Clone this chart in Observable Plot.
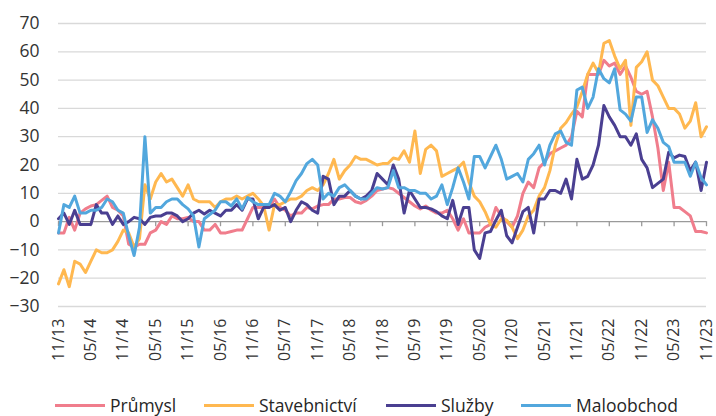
<!DOCTYPE html>
<html><head><meta charset="utf-8">
<script src="https://cdn.jsdelivr.net/npm/d3@7"></script>
<script src="https://cdn.jsdelivr.net/npm/@observablehq/plot@0.6"></script>
<style>
body{margin:0;background:#fff;font-family:"Open Sans",sans-serif;}
#chart{width:716px;height:416px;position:relative;overflow:hidden;}
#legend{position:absolute;top:395px;left:0;width:716px;height:20px;}
.item{position:absolute;top:0;display:flex;align-items:center;font-size:17.5px;line-height:20px;height:20px;color:#262626;white-space:nowrap;}
.sw{width:50px;height:3px;margin-right:5px;}
</style></head><body><div id="chart"></div>
<script>
const seriesNames = ["Průmysl", "Stavebnictví", "Služby", "Maloobchod"];
const seriesColors = ["#F07D8C", "#FFB850", "#4A3F91", "#52A7DD"];
const tickLabels = ["11/13","05/14","11/14","05/15","11/15","05/16","11/16","05/17","11/17","05/18","11/18","05/19","11/19","05/20","11/20","05/21","11/21","05/22","11/22","05/23","11/23"];
const yTicks = [-30,-20,-10,0,10,20,30,40,50,60,70];

const prumysl = [
 -4,-4,1.5,-3,3,4.5,5.5,6,7.5,9,5,4,
 2,-8,-9,-8,-8,-4,-3,0,-1,2,1,1,
 1.5,0,0,-3,-3,-1,-4,-4,-3.5,-3,-3,1,
 5,5,5,5,8,5,4,2,3,3,5,4.5,
 5.5,6,6,8,8,8.5,8.5,7,6.5,7.5,9,11,
 11.5,12,11.5,10,8.5,7,5.5,4.5,5.5,4,3,3,
 4,1,-3,1,-4,-4,-4,-2,-1,5,2,0,
 -2,2,10,14,12,19,21,24,25,26,27,30,
 39,37,52,52,52,57,55,56,52,55,51,46,
 45,46,37,26,11,21,5,5,3.5,2,-3.5,-3.5,
 -4];
const stavebnictvi = [
 -22,-17,-23,-14,-15,-18,-14,-10,-11,-11,-10,-7,
 -3,-4,-9,-6,13,8,14,17,14,15,12,9,
 13,8,7,7,7,5,7,8,8,9,8,9,
 10,8,5.5,-3,6,6,7,8,8,9,11,12,
 11,13,17,22,15,18,20,23,22,22,21,20,
 20.5,20.5,22.5,22,25,21,32,17,25.5,27,25,16,
 17,18,19,21,14,9,7,3.5,-1,-2,1,0.5,
 -2,-6,-3,2,4,9,12,18,27,33,35,38,
 40.5,46,52,56,52.5,63,64,58.5,54,57,34,54.5,
 56.5,60,50,48,44,40,40,38,33,35.5,42,30,
 33.5];
const sluzby = [
 1,3,-1,4,-1,-1,-1,6,3,3,-1,2,
 -1,0,1.5,1,-1,1.5,2,2,3,3,2,0,
 1,3,4,2.7,4,3,2,4,4,6,4,8,
 8,1,5,5,6,4,5,0,4,7,6,4,
 3,16,15,6,9,9,11,9,8,9,11,17,
 15,13,20,15,3,11,8,5,5,4.5,3.5,2,
 1,7.5,-1,5,5,-10,-13,-4,-3.5,0.5,4,-5,
 -7.5,-2,3.5,5,-4,8,8,11,11,10,15,8,
 22,15,16,20,27,41,37,34,30,30,27,31,
 22,19,12,13.5,15,24.5,22.5,23.5,23,18,21,11,
 21];
const maloobchod = [
 -4,6,5,9,3,3,4,4,5,8,7,4,
 3,-5,-12,-2,30,3,5,5,7,8,8,6,
 4.5,2,-9,1,2.5,4,7,7,5.5,8,4.5,8.5,
 7,6,6,6,10,9,7,10.5,14.5,17,20.5,22,
 20,8,10,9,12,13,11,9,8,8,10,12,
 11.5,12,18,12,12,11,11,10,10,8,9,13,
 6,12,19,14,8,23,23,19,23,27,22,15,
 16,17,14,22,24,27,20,27,31,32,28,27,
 46.5,47.5,40,44,54,50.5,49,54,39.5,38,35.5,44,
 44,31.5,36,33,28,26.5,21,21,21,16,21,15.5,
 13];

const allSeries = [prumysl, stavebnictvi, sluzby, maloobchod];
const rows = [];
allSeries.forEach((arr, k) => arr.forEach((v, i) => rows.push({i, v, s: seriesNames[k]})));
const tickIdx = tickLabels.map((_, j) => j * 6);

const plot = Plot.plot({
  width: 716, height: 372,
  marginLeft: 58, marginRight: 10, marginTop: 23, marginBottom: 66,
  style: {color: "#333333", fontFamily: "Open Sans, sans-serif", background: "#fff"},
  x: {domain: [0, tickIdx[tickIdx.length - 1]], axis: null},
  y: {domain: [-30, 70], axis: null},
  color: {domain: seriesNames, range: seriesColors},
  marks: [
    Plot.ruleY(yTicks.filter(v => v !== 0), {stroke: "#d9d9d9", strokeWidth: 1.3}),
    Plot.ruleY([0], {stroke: "#9a9a9a", strokeWidth: 1.3}),
    Plot.ruleX(tickIdx, {y1: 0, y2: -1.8, stroke: "#9a9a9a", strokeWidth: 1.3}),
    Plot.axisY({ticks: yTicks, tickSize: 0, tickPadding: 19, fontSize: 17.5, label: null}),
    Plot.axisX({ticks: tickIdx, tickFormat: d => tickLabels[d / 6], tickRotate: -90, tickSize: 0, tickPadding: 12, fontSize: 16, label: null}),
    Plot.line(rows, {x: "i", y: "v", z: "s", stroke: "s", strokeWidth: 3, strokeLinejoin: "round", strokeLinecap: "round"})
  ]
});
const chart = document.getElementById("chart");
chart.appendChild(plot);

const legend = document.createElement("div");
legend.id = "legend";
const lefts = [55, 204, 386, 521];
seriesNames.forEach((name, k) => {
  const it = document.createElement("div");
  it.className = "item";
  it.style.left = lefts[k] + "px";
  const sw = document.createElement("span");
  sw.className = "sw";
  sw.style.background = seriesColors[k];
  const tx = document.createElement("span");
  tx.textContent = name;
  it.appendChild(sw); it.appendChild(tx);
  legend.appendChild(it);
});
chart.appendChild(legend);
</script></body></html>
